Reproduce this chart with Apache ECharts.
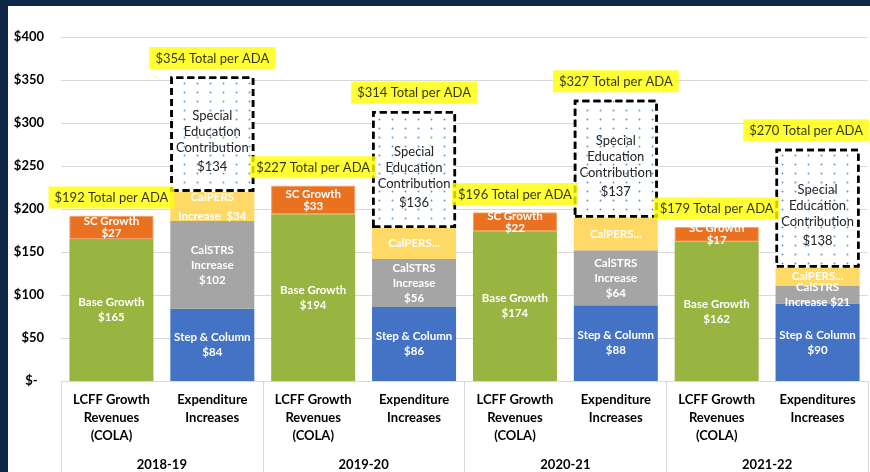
<!DOCTYPE html>
<html>
<head>
<meta charset="utf-8">
<script src="https://cdn.jsdelivr.net/npm/echarts@6/dist/echarts.min.js"></script>
<style>
  html, body { margin: 0; padding: 0; background: #ffffff; }
  #chart { width: 870px; height: 472px; }
</style>
</head>
<body>
<div id="chart"></div>
<script>
// ---- Data ----
const years = ['2018-19', '2019-20', '2020-21', '2021-22'];
const revenueCategory = 'LCFF Growth\nRevenues\n(COLA)';
const expenditureCategories = ['Expenditure\nIncreases', 'Expenditure\nIncreases', 'Expenditure\nIncreases', 'Expenditures\nIncreases'];
const baseGrowth = [165, 194, 174, 162];
const scGrowth = [27, 33, 22, 17];
const stepColumn = [84, 86, 88, 90];
const calstrs = [102, 56, 64, 21];
const calpers = [34, 36, 38, 21];
const specialEd = [134, 136, 137, 138];
const calpersTruncated = [false, true, true, true];
const calstrsTwoLine = [false, false, false, true];
const yTicks = { min: 0, max: 400, interval: 50 };

// ---- Build category axis data (alternating revenue / expenditure) ----
const categories = [];
years.forEach((y, i) => { categories.push(revenueCategory); categories.push(expenditureCategories[i]); });

function revSeries(arr) { const out = []; arr.forEach(v => { out.push(v); out.push(null); }); return out; }
function expSeries(arr) { const out = []; arr.forEach(v => { out.push(null); out.push(v); }); return out; }

const revTotals = years.map((_, i) => baseGrowth[i] + scGrowth[i]);
const expTotals = years.map((_, i) => stepColumn[i] + calstrs[i] + calpers[i] + specialEd[i]);
const totalPoints = [];
years.forEach((_, i) => {
  totalPoints.push([i * 2, revTotals[i]]);
  totalPoints.push([i * 2 + 1, expTotals[i]]);
});

const FONT = 'Lato, "Open Sans", sans-serif';
const insideLabel = {
  show: true, position: 'inside', color: '#ffffff', fontWeight: 'bold',
  fontFamily: FONT, fontSize: 11.5, lineHeight: 15
};

function yearIndex(p) { return Math.floor(p.dataIndex / 2); }

const barCommon = { type: 'bar', stack: 'total', barWidth: 84, xAxisIndex: 0, yAxisIndex: 0 };

const option = {
  animation: false,
  textStyle: { fontFamily: FONT },
  graphic: [
    { type: 'rect', shape: { x: 0, y: 0, width: 870, height: 6 }, style: { fill: '#0f2848' }, z: 100 },
    { type: 'rect', shape: { x: 0, y: 0, width: 8, height: 472 }, style: { fill: '#0f2848' }, z: 100 }
  ],
  grid: { left: 61, right: 2, top: 37, bottom: 91, containLabel: false },
  xAxis: [
    {
      type: 'category', data: categories, position: 'bottom',
      axisLine: { show: false }, axisTick: { show: false },
      axisLabel: {
        interval: 0, margin: 10, color: '#000000', fontWeight: 'bold',
        fontFamily: FONT, fontSize: 13, lineHeight: 18
      }
    },
    {
      type: 'category', data: years, position: 'bottom',
      axisLine: { show: true, lineStyle: { color: '#d9d9d9', width: 1 } },
      axisTick: { show: true, length: 92, lineStyle: { color: '#d9d9d9', width: 1 } },
      axisLabel: {
        interval: 0, margin: 77, color: '#000000', fontWeight: 'bold',
        fontFamily: FONT, fontSize: 13
      }
    }
  ],
  yAxis: {
    type: 'value', min: yTicks.min, max: yTicks.max, interval: yTicks.interval,
    axisLine: { show: false }, axisTick: { show: false },
    splitLine: { lineStyle: { color: '#d9d9d9', width: 1 } },
    axisLabel: {
      margin: 17, color: '#000000', fontWeight: 'bold', fontFamily: FONT, fontSize: 13,
      formatter: v => v === 0 ? '$-  ' : '$' + v
    }
  },
  series: [
    Object.assign({}, barCommon, {
      name: 'Base Growth', data: revSeries(baseGrowth),
      itemStyle: { color: '#98b441' },
      label: Object.assign({}, insideLabel, { formatter: p => 'Base Growth\n$' + p.value })
    }),
    Object.assign({}, barCommon, {
      name: 'SC Growth', data: revSeries(scGrowth),
      itemStyle: { color: '#ea7120', borderColor: '#f4a06a', borderWidth: 1 },
      label: Object.assign({}, insideLabel, { lineHeight: 12, formatter: p => 'SC Growth\n$' + p.value })
    }),
    Object.assign({}, barCommon, {
      name: 'Step & Column', data: expSeries(stepColumn),
      itemStyle: { color: '#4472c4' },
      label: Object.assign({}, insideLabel, { formatter: p => 'Step & Column\n$' + p.value })
    }),
    Object.assign({}, barCommon, {
      name: 'CalSTRS Increase', data: expSeries(calstrs),
      itemStyle: { color: '#a5a5a5' },
      label: Object.assign({}, insideLabel, {
        formatter: p => calstrsTwoLine[yearIndex(p)] ? 'CalSTRS\nIncrease $' + p.value : 'CalSTRS\nIncrease\n$' + p.value
      })
    }),
    Object.assign({}, barCommon, {
      name: 'CalPERS Increase', data: expSeries(calpers),
      itemStyle: { color: '#ffd966' },
      label: Object.assign({}, insideLabel, {
        lineHeight: 19,
        formatter: p => calpersTruncated[yearIndex(p)] ? 'CalPERS...' : 'CalPERS\nIncrease  $' + p.value
      })
    }),
    Object.assign({}, barCommon, {
      name: 'Special Education Contribution', data: expSeries(specialEd),
      itemStyle: {
        color: '#ffffff', borderColor: '#000000', borderWidth: 2.5, borderType: [7, 4],
        decal: { symbol: 'circle', symbolSize: 0.4, color: '#5b9bd5', dashArrayX: [5, 8], dashArrayY: [5, 4] }
      },
      label: {
        show: true, position: 'inside', offset: [0, 9],
        formatter: p => '{a|Special}\n{a|Education}\n{a|Contribution}\n{b|$' + p.value + '}',
        rich: {
          a: { color: '#262626', fontFamily: FONT, fontSize: 13, lineHeight: 16 },
          b: { color: '#262626', fontFamily: FONT, fontSize: 13, lineHeight: 22 }
        }
      }
    }),
    {
      name: 'Total per ADA', type: 'scatter', xAxisIndex: 0, yAxisIndex: 0,
      data: totalPoints, symbol: 'circle', symbolSize: 1, itemStyle: { color: 'rgba(0,0,0,0)' }, z: 10,
      label: {
        show: true, position: 'top', distance: 7,
        formatter: p => '$' + p.value[1] + ' Total per ADA',
        backgroundColor: '#ffff00', color: '#000000', fontFamily: FONT, fontSize: 13,
        padding: [5, 6, 4, 6]
      },
      labelLayout: function (params) {
        const r = params.labelRect;
        const limit = 869;
        if (r.x + r.width > limit) return { dx: limit - (r.x + r.width) };
        return {};
      }
    }
  ]
};

const chart = echarts.init(document.getElementById('chart'), null, { renderer: 'canvas' });
chart.setOption(option);
</script>
</body>
</html>
